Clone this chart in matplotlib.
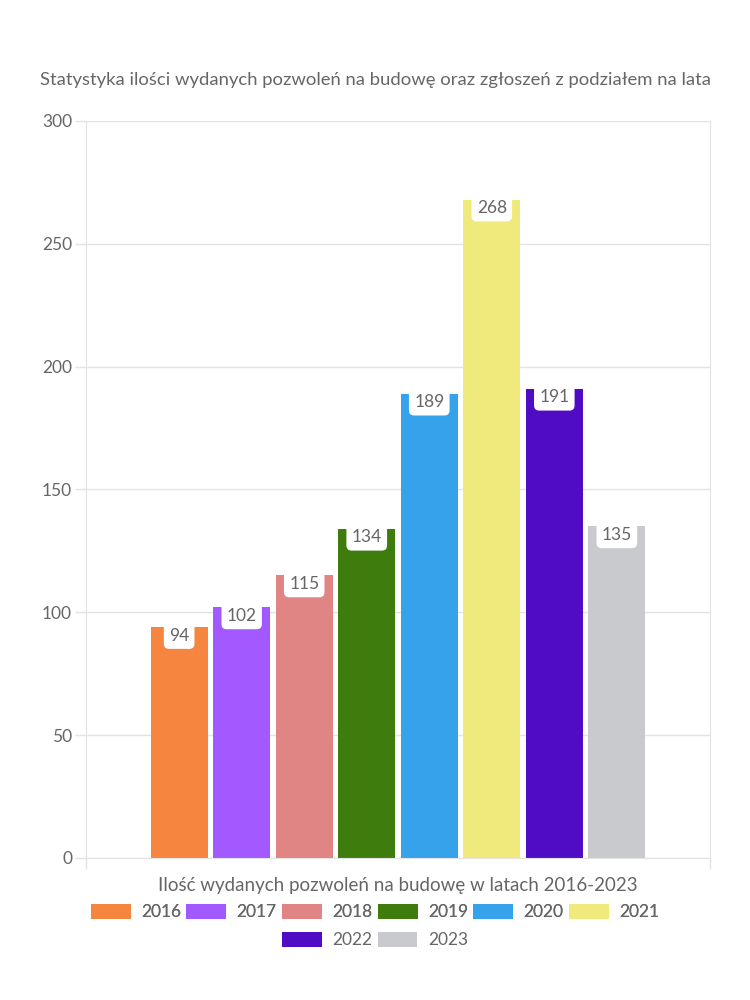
import numpy as np
import matplotlib.pyplot as plt
from matplotlib.patches import Patch

plt.rcParams['font.family'] = ['Lato', 'DejaVu Sans']

years = ['2016', '2017', '2018', '2019', '2020', '2021', '2022', '2023']
values = [94, 102, 115, 134, 189, 268, 191, 135]
colors = ['#F5853F', '#A259FF', '#E08484', '#3E7D0D', '#36A2EB', '#F0EA7C', '#500CC4', '#C9CACE']
yticks = [0, 50, 100, 150, 200, 250, 300]

title = 'Statystyka ilości wydanych pozwoleń na budowę oraz zgłoszeń z podziałem na lata'
xlabel = 'Ilość wydanych pozwoleń na budowę w latach 2016-2023'

txt = '#666666'
line = '#e3e3e3'

fig = plt.figure(figsize=(7.5, 10), dpi=100)
ax = fig.add_axes([86 / 750, 1 - 858 / 1000, 624 / 750, 737 / 1000])

x = np.arange(len(years))
ax.bar(x, values, width=0.91, color=colors, zorder=2)

for xi, v in zip(x, values):
    ax.text(xi, v - 3.5, str(v), ha='center', va='center', fontsize=12.5, color=txt, zorder=3,
            bbox=dict(boxstyle='round,pad=0.3,rounding_size=0.3', fc='white', ec='none'))

ax.set_xlim(3.5 - 4.99, 3.5 + 4.99)
ax.set_ylim(0, 300)
ax.set_yticks(yticks)
ax.set_yticklabels([str(t) for t in yticks], fontsize=12.5, color=txt)
ax.set_xticks([3.5 - 4.99, 3.5 + 4.99])
ax.set_xticklabels(['', ''])
ax.tick_params(axis='both', length=8, color=line, width=1)
ax.tick_params(axis='y', pad=2)
ax.grid(axis='y', color=line, lw=1, zorder=0)
for s in ax.spines.values():
    s.set_color(line)
ax.spines['top'].set_visible(False)

ax.set_xlabel(xlabel, fontsize=13.5, color=txt, labelpad=2)
fig.text(375 / 750, 1 - 80 / 1000, title, ha='center', va='center', fontsize=13.3, color=txt)

handles = [Patch(fc=c, ec='none') for c in colors]
kw = dict(loc='center', frameon=False, fontsize=12.5, handlelength=2.3, handleheight=1.0,
          columnspacing=0.3, handletextpad=0.6, labelcolor=txt)
leg1 = fig.legend(handles[:6], years[:6], bbox_to_anchor=(375 / 750, 1 - 912 / 1000), ncol=6, **kw)
leg2 = fig.legend(handles[6:], years[6:], bbox_to_anchor=(375 / 750, 1 - 940 / 1000), ncol=2, **kw)
fig.add_artist(leg1)

fig.savefig('out.png', dpi=100, facecolor='white')
